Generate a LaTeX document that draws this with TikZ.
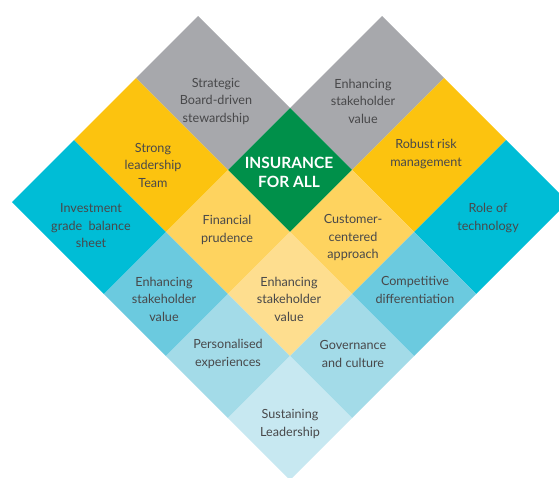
\documentclass[tikz,border=0pt]{standalone}
\usepackage{fontspec}
\setmainfont{Lato}
\definecolor{cgray}{HTML}{A7A8AC}
\definecolor{cyel}{HTML}{FCC30F}
\definecolor{ccyan}{HTML}{00BDD6}
\definecolor{cgreen}{HTML}{00904A}
\definecolor{cyel2}{HTML}{FED35F}
\definecolor{cyel3}{HTML}{FEDE8F}
\definecolor{ccyan2}{HTML}{6BCADF}
\definecolor{ccyan3}{HTML}{A3DBE8}
\definecolor{ccyan4}{HTML}{C7E8F1}
\definecolor{ctext}{HTML}{48484A}
\tikzset{
  lbl/.style={align=center, text=ctext, font=\fontsize{12.6}{17.5}\selectfont, inner sep=0pt},
  hub/.style={align=center, text=white, font=\bfseries\fontsize{15.5}{19}\selectfont, inner sep=0pt}
}
\begin{document}
\begin{tikzpicture}[x=1pt,y=-1pt]
\useasboundingbox (0,0) rectangle (559,477);
\clip (0,0) rectangle (559,477);
% left column (wide)
\fill[cgray]  (198,16) -- (290,108) -- (228,170) -- (136,78) -- cycle;
\fill[cyel]   (136,78) -- (228,170) -- (166,232) -- (74,140) -- cycle;
\fill[ccyan]  (74,140) -- (166,232) -- (104,294) -- (12,202) -- cycle;
% top row (wide)
\fill[cgray]  (290,108) -- (382,16) -- (444,78) -- (352,170) -- cycle;
\fill[cyel]   (352,170) -- (444,78) -- (506,140) -- (414,232) -- cycle;
\fill[ccyan]  (414,232) -- (506,140) -- (568,202) -- (476,294) -- cycle;
% central grid
\fill[cgreen] (290,108) -- (352,170) -- (290,232) -- (228,170) -- cycle;
\fill[cyel2]  (228,170) -- (290,232) -- (228,294) -- (166,232) -- cycle;
\fill[cyel2]  (352,170) -- (414,232) -- (352,294) -- (290,232) -- cycle;
\fill[ccyan2] (166,232) -- (228,294) -- (166,356) -- (104,294) -- cycle;
\fill[cyel3]  (290,232) -- (352,294) -- (290,356) -- (228,294) -- cycle;
\fill[ccyan2] (414,232) -- (476,294) -- (414,356) -- (352,294) -- cycle;
\fill[ccyan3] (228,294) -- (290,356) -- (228,418) -- (166,356) -- cycle;
\fill[ccyan3] (352,294) -- (414,356) -- (352,418) -- (290,356) -- cycle;
\fill[ccyan4] (290,356) -- (352,418) -- (290,480) -- (228,418) -- cycle;
% labels
\node[lbl] (strat) at (216,101) {Strategic\\Board-driven\\stewardship};
\node[lbl] (strong) at (153,165) {Strong\\leadership\\Team};
\node[lbl] (invest) at (91,226) {Investment\\grade\ \ balance\\sheet};
\node[lbl] (enhtop) at (363,101) {Enhancing\\stakeholder\\value};
\node[lbl] (robust) at (426,154) {Robust risk\\management};
\node[lbl] (role) at (488,218) {Role of\\technology};
\node[hub] (hub) at (289,172) {INSURANCE\\FOR ALL};
\node[lbl] (fin) at (227,230) {Financial\\prudence};
\node[lbl] (cust) at (353,238) {Customer-\\centered\\approach};
\node[lbl] (enhleft) at (164,299) {Enhancing\\stakeholder\\value};
\node[lbl] (enhmid) at (289,299) {Enhancing\\stakeholder\\value};
\node[lbl] (comp) at (415,290) {Competitive\\differentiation};
\node[lbl] (pers) at (228,354) {Personalised\\experiences};
\node[lbl] (gov) at (353,354) {Governance\\and culture};
\node[lbl] (sust) at (290,424) {Sustaining\\Leadership};
\end{tikzpicture}
\end{document}
